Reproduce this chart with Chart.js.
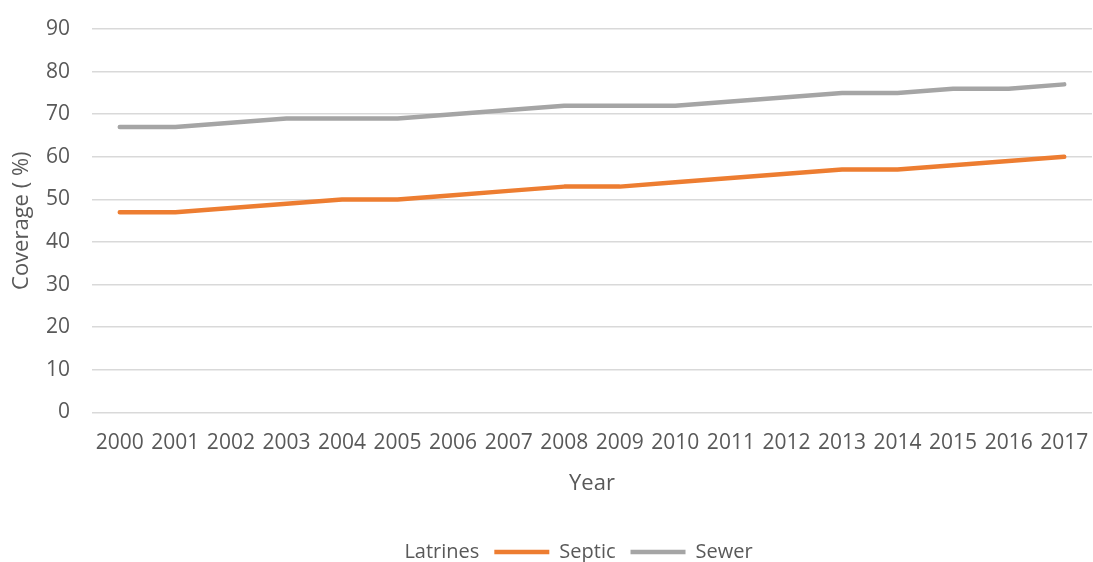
<!DOCTYPE html>
<html>
<head>
<meta charset="utf-8">
<script src="https://cdn.jsdelivr.net/npm/chart.js@4/dist/chart.umd.min.js"></script>
<style>
    html, body { margin: 0; padding: 0; background: #fff; }
    #wrap { width: 1093px; height: 562px; }
</style>
</head>
<body>
<div id="wrap"><canvas id="coverageChart" width="1093" height="562"></canvas></div>
<script>
const years = ['2000', '2001', '2002', '2003', '2004', '2005', '2006', '2007', '2008',
    '2009', '2010', '2011', '2012', '2013', '2014', '2015', '2016', '2017'];
const latrinesValues = [];
const septicValues = [47, 47, 48, 49, 50, 50, 51, 52, 53, 53, 54, 55, 56, 57, 57, 58, 59, 60];
const sewerValues = [67, 67, 68, 69, 69, 69, 70, 71, 72, 72, 72, 73, 74, 75, 75, 76, 76, 77];

const textColor = '#595959';
const fontFamily = '"Open Sans", "Noto Sans", sans-serif';

function makeSeries(label, values, color) {
    return {
        label: label,
        data: values,
        borderColor: color,
        backgroundColor: color,
        borderWidth: 4.5,
        borderCapStyle: 'round',
        borderJoinStyle: 'round',
        pointRadius: 0,
        pointHoverRadius: 0,
        pointStyle: 'line',
        tension: 0
    };
}

const ctx = document.getElementById('coverageChart').getContext('2d');
new Chart(ctx, {
    type: 'line',
    data: {
        labels: years,
        datasets: [
            makeSeries('Latrines', latrinesValues, 'rgba(0,0,0,0)'),
            makeSeries('Septic', septicValues, '#ED7D31'),
            makeSeries('Sewer', sewerValues, '#A5A5A5')
        ]
    },
    options: {
        responsive: false,
        animation: false,
        layout: { padding: { top: 29, right: 1, left: 0, bottom: -10 } },
        plugins: {
            tooltip: { enabled: false },
            legend: {
                position: 'bottom',
                labels: {
                    usePointStyle: true,
                    pointStyleWidth: 55,
                    boxHeight: 4,
                    padding: 15,
                    color: textColor,
                    font: { family: fontFamily, size: 20 }
                }
            }
        },
        scales: {
            x: {
                offset: true,
                grid: { display: false },
                border: { display: false },
                ticks: {
                    color: textColor,
                    padding: 10,
                    maxRotation: 0,
                    autoSkip: false,
                    font: { family: fontFamily, size: 21 }
                },
                title: {
                    display: true,
                    text: 'Year',
                    color: textColor,
                    padding: { top: 5, bottom: 30 },
                    font: { family: fontFamily, size: 22 }
                },
                afterFit: scale => {
                    scale.paddingLeft = 0;
                    scale.paddingRight = 0;
                }
            },
            y: {
                min: 0,
                max: 90,
                border: { display: false },
                grid: { color: '#D9D9D9', lineWidth: 1.5, drawTicks: false },
                ticks: {
                    stepSize: 10,
                    color: textColor,
                    padding: 22,
                    font: { family: fontFamily, size: 21 }
                },
                title: {
                    display: true,
                    text: 'Coverage ( %)',
                    color: textColor,
                    padding: { top: 9, bottom: 6 },
                    font: { family: fontFamily, size: 22 }
                },
                afterFit: scale => {
                    scale.width = 92;
                    scale.paddingTop = 0;
                    scale.paddingBottom = 0;
                }
            }
        }
    }
});
</script>
</body>
</html>
